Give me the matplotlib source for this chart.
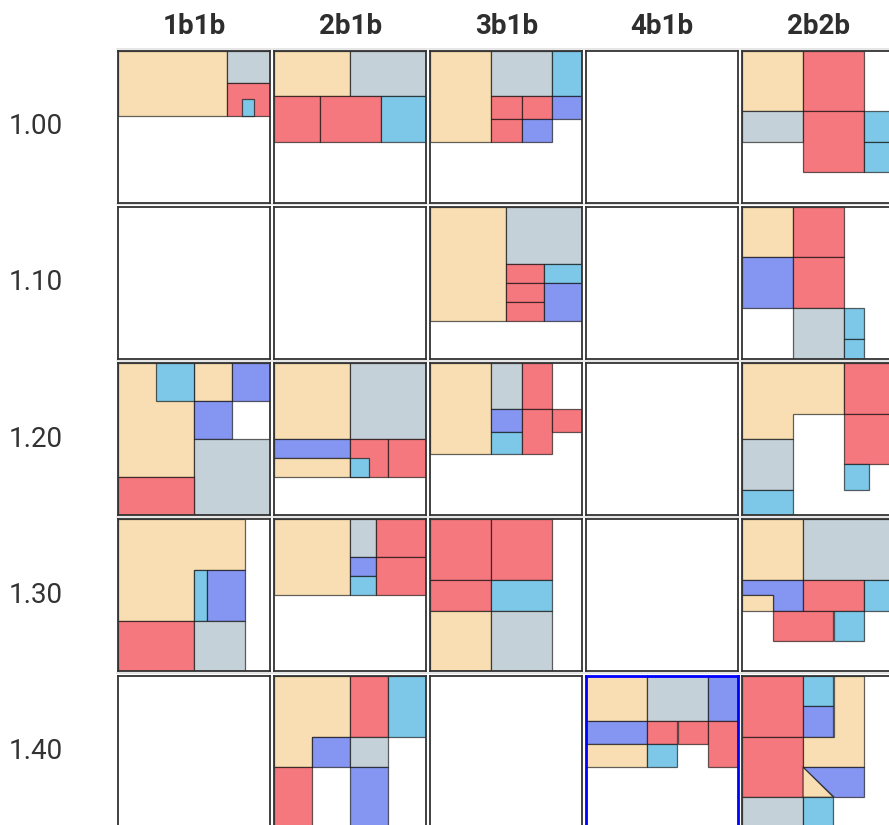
import matplotlib.pyplot as plt
from matplotlib.patches import Rectangle, Polygon

plt.rcParams['font.family'] = ['Roboto', 'DejaVu Sans']

# labels
col_labels = ['1b1b', '2b1b', '3b1b', '4b1b', '2b2b']
row_labels = ['1.00', '1.10', '1.20', '1.30', '1.40']
highlight = ('1.40', '4b1b')

room_colors = {
    'tan': '#F8DEB2',
    'grey': '#C4D1D8',
    'red': '#F6787F',
    'cyan': '#7DC8E8',
    'blue': '#8596F2',
}

# floor plans, cell is 10 x 10 units, y measured from the top
# rect: (kind, x, y, w, h)   poly: (kind, [(x, y), ...])
p100_1b1b = [('tan', 0, 0, 7.14, 4.29), ('grey', 7.14, 0, 2.86, 2.14),
             ('red', 7.14, 2.14, 2.86, 2.15), ('cyan', 8.14, 3.21, 0.79, 1.08)]
p100_2b1b = [('tan', 0, 0, 5, 3), ('grey', 5, 0, 5, 3), ('red', 0, 3, 3, 3),
             ('red', 3, 3, 4, 3), ('cyan', 7, 3, 3, 3)]
p100_3b1b = [('tan', 0, 0, 4, 6), ('grey', 4, 0, 4, 3), ('cyan', 8, 0, 2, 3),
             ('red', 4, 3, 2, 1.5), ('red', 6, 3, 2, 1.5), ('blue', 8, 3, 2, 1.5),
             ('red', 4, 4.5, 2, 1.5), ('blue', 6, 4.5, 2, 1.5)]
p100_4b1b = []
p100_2b2b = [('tan', 0, 0, 4, 4), ('red', 4, 0, 4, 4), ('grey', 0, 4, 4, 2),
             ('red', 4, 4, 4, 4), ('cyan', 8, 4, 2, 2), ('cyan', 8, 6, 2, 2)]

p110_1b1b = []
p110_2b1b = []
p110_3b1b = [('tan', 0, 0, 5, 7.5), ('grey', 5, 0, 5, 3.75),
             ('red', 5, 3.75, 2.5, 1.25), ('red', 5, 5, 2.5, 1.25),
             ('red', 5, 6.25, 2.5, 1.25), ('cyan', 7.5, 3.75, 2.5, 1.25),
             ('blue', 7.5, 5, 2.5, 2.5)]
p110_4b1b = []
p110_2b2b = [('tan', 0, 0, 3.33, 3.33), ('red', 3.33, 0, 3.33, 3.33),
             ('blue', 0, 3.33, 3.33, 3.33), ('red', 3.33, 3.33, 3.33, 3.33),
             ('grey', 3.33, 6.67, 3.33, 3.33), ('cyan', 6.67, 6.67, 1.33, 2),
             ('cyan', 6.67, 8.67, 1.33, 1.33)]

p120_1b1b = [('tan', 0, 0, 5, 7.5), ('tan', 5, 0, 2.5, 2.5), ('cyan', 2.5, 0, 2.5, 2.5),
             ('blue', 7.5, 0, 2.5, 2.5), ('blue', 5, 2.5, 2.5, 2.5),
             ('grey', 5, 5, 5, 5), ('red', 0, 7.5, 5, 2.5)]
p120_2b1b = [('tan', 0, 0, 5, 5), ('grey', 5, 0, 5, 5), ('blue', 0, 5, 5, 1.25),
             ('tan', 0, 6.25, 5, 1.25), ('red', 5, 5, 2.5, 2.5),
             ('cyan', 5, 6.25, 1.25, 1.25), ('red', 7.5, 5, 2.5, 2.5)]
p120_3b1b = [('tan', 0, 0, 4, 6), ('grey', 4, 0, 2, 3), ('blue', 4, 3, 2, 1.5),
             ('cyan', 4, 4.5, 2, 1.5), ('red', 6, 0, 2, 3), ('red', 6, 3, 2, 3),
             ('red', 8, 3, 2, 1.5)]
p120_4b1b = []
p120_2b2b = [('tan', [(0, 0), (6.67, 0), (6.67, 3.33), (3.33, 3.33), (3.33, 5), (0, 5)]),
             ('red', 6.67, 0, 3.33, 3.33), ('red', 6.67, 3.33, 3.33, 3.33),
             ('cyan', 6.67, 6.67, 1.67, 1.67), ('grey', 0, 5, 3.33, 3.33),
             ('cyan', 0, 8.33, 3.33, 1.67)]

p130_1b1b = [('tan', [(0, 0), (8.33, 0), (8.33, 3.33), (5, 3.33), (5, 6.67), (0, 6.67)]),
             ('cyan', 5, 3.33, 0.83, 3.34), ('blue', 5.83, 3.33, 2.5, 3.34),
             ('red', 0, 6.67, 5, 3.33), ('grey', 5, 6.67, 3.33, 3.33)]
p130_2b1b = [('tan', 0, 0, 5, 5), ('grey', 5, 0, 1.67, 2.5), ('blue', 5, 2.5, 1.67, 1.25),
             ('cyan', 5, 3.75, 1.67, 1.25), ('red', 6.67, 0, 3.33, 2.5),
             ('red', 6.67, 2.5, 3.33, 2.5)]
p130_3b1b = [('red', 0, 0, 4, 4), ('red', 4, 0, 4, 4), ('red', 0, 4, 4, 2),
             ('cyan', 4, 4, 4, 2), ('tan', 0, 6, 4, 4), ('grey', 4, 6, 4, 4)]
p130_4b1b = []
p130_2b2b = [('tan', 0, 0, 4, 4), ('grey', 4, 0, 6, 4),
             ('blue', [(0, 4), (4, 4), (4, 6), (2, 6), (2, 5), (0, 5)]),
             ('tan', 0, 5, 2, 1), ('red', 4, 4, 4, 2), ('cyan', 8, 4, 2, 2),
             ('red', 2, 6, 4, 2), ('cyan', 6, 6, 2, 2)]

p140_1b1b = []
p140_2b1b = [('tan', [(0, 0), (5, 0), (5, 4), (2.5, 4), (2.5, 6), (0, 6)]),
             ('red', 5, 0, 2.5, 4), ('cyan', 7.5, 0, 2.5, 4), ('blue', 2.5, 4, 2.5, 2),
             ('grey', 5, 4, 2.5, 2), ('red', 0, 6, 2.5, 4), ('blue', 5, 6, 2.5, 4)]
p140_3b1b = []
p140_4b1b = [('tan', 0, 0, 4, 3), ('grey', 4, 0, 4, 3), ('blue', 8, 0, 2, 3),
             ('blue', 0, 3, 4, 1.5), ('tan', 0, 4.5, 4, 1.5), ('red', 4, 3, 2, 1.5),
             ('red', 6, 3, 2, 1.5), ('cyan', 4, 4.5, 2, 1.5), ('red', 8, 3, 2, 3)]
p140_2b2b = [('red', 0, 0, 4, 4), ('red', 0, 4, 4, 4), ('cyan', 4, 0, 2, 2),
             ('blue', 4, 2, 2, 2),
             ('tan', [(6, 0), (8, 0), (8, 6), (4, 6), (4, 4), (6, 4)]),
             ('tan', [(4, 6), (6, 8), (4, 8)]),
             ('blue', [(4, 6), (8, 6), (8, 8), (6, 8)]),
             ('grey', 0, 8, 4, 2), ('cyan', 4, 8, 2, 2)]

plans = [
    [p100_1b1b, p100_2b1b, p100_3b1b, p100_4b1b, p100_2b2b],
    [p110_1b1b, p110_2b1b, p110_3b1b, p110_4b1b, p110_2b2b],
    [p120_1b1b, p120_2b1b, p120_3b1b, p120_4b1b, p120_2b2b],
    [p130_1b1b, p130_2b1b, p130_3b1b, p130_4b1b, p130_2b2b],
    [p140_1b1b, p140_2b1b, p140_3b1b, p140_4b1b, p140_2b2b],
]

# layout in pixels
W, H = 889, 825
X0, Y0 = 118.3, 50.5
DX, DY = 156.0, 156.3
CELL = 152.0

fig = plt.figure(figsize=(W / 100, H / 100), dpi=100)
bg = fig.add_axes([0, 0, 1, 1])
bg.set_xlim(0, W)
bg.set_ylim(H, 0)
bg.axis('off')

for c, lab in enumerate(col_labels):
    xc = X0 + c * DX
    bg.text(xc + CELL / 2, 26, lab, ha='center', va='center', fontsize=20,
            fontweight='bold', color='#2e2e2e')
    bg.plot([xc - 1, xc + CELL + 1], [48.5, 48.5], color='#e2e2e2', lw=1.2)
    for r in range(1, 5):
        yl = Y0 + r * DY - 2.5
        bg.plot([xc - 1, xc + CELL + 1], [yl, yl], color='#e2e2e2', lw=1.2)

for r, lab in enumerate(row_labels):
    bg.text(9, Y0 + r * DY + CELL / 2, lab, ha='left', va='center',
            fontsize=20, color='#333333')

for r in range(5):
    for c in range(5):
        x = X0 + c * DX
        y = Y0 + r * DY
        ax = fig.add_axes([x / W, 1 - (y + CELL) / H, CELL / W, CELL / H])
        ax.set_xlim(0, 10)
        ax.set_ylim(10, 0)
        ax.set_xticks([])
        ax.set_yticks([])
        for room in plans[r][c]:
            if len(room) == 2:
                p = Polygon(room[1], closed=True)
            else:
                p = Rectangle((room[1], room[2]), room[3], room[4])
            p.set_facecolor(room_colors[room[0]])
            p.set_edgecolor((0, 0, 0, 0.6))
            p.set_linewidth(0.9)
            ax.add_patch(p)
        hl = (row_labels[r], col_labels[c]) == highlight
        for s in ax.spines.values():
            s.set_color('#0000ff' if hl else '#333333')
            s.set_linewidth(2.0 if hl else 1.3)

fig.savefig('out.png', dpi=100)
